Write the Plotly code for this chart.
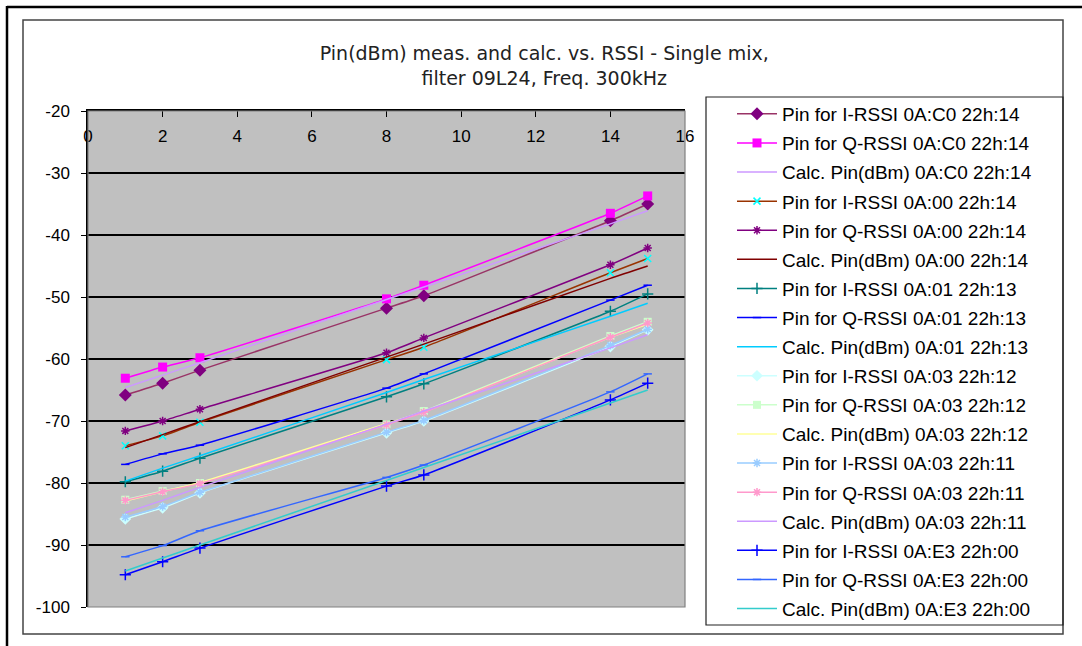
import plotly.graph_objects as go

x_vals = [1, 2, 3, 8, 9, 14, 15]

names = [
    "Pin for I-RSSI 0A:C0 22h:14",
    "Pin for Q-RSSI 0A:C0 22h:14",
    "Calc. Pin(dBm) 0A:C0 22h:14",
    "Pin for I-RSSI 0A:00 22h:14",
    "Pin for Q-RSSI 0A:00 22h:14",
    "Calc. Pin(dBm) 0A:00 22h:14",
    "Pin for I-RSSI 0A:01 22h:13",
    "Pin for Q-RSSI 0A:01 22h:13",
    "Calc. Pin(dBm) 0A:01 22h:13",
    "Pin for I-RSSI 0A:03 22h:12",
    "Pin for Q-RSSI 0A:03 22h:12",
    "Calc. Pin(dBm) 0A:03 22h:12",
    "Pin for I-RSSI 0A:03 22h:11",
    "Pin for Q-RSSI 0A:03 22h:11",
    "Calc. Pin(dBm) 0A:03 22h:11",
    "Pin for I-RSSI 0A:E3 22h:00",
    "Pin for Q-RSSI 0A:E3 22h:00",
    "Calc. Pin(dBm) 0A:E3 22h:00",
]

i_c0 = [-65.8, -63.9, -61.8, -51.8, -49.8, -37.7, -35.0]
q_c0 = [-63.1, -61.3, -59.8, -50.3, -48.1, -36.5, -33.7]
calc_c0 = [-64.6, -62.6, -60.6, -50.4, -48.4, -38.2, -36.1]
i_00 = [-74.0, -72.4, -70.2, -60.1, -58.1, -46.1, -43.8]
q_00 = [-71.6, -70.0, -68.1, -59.0, -56.6, -44.8, -42.1]
calc_00 = [-74.3, -72.2, -70.1, -59.7, -57.6, -47.0, -45.0]
i_01 = [-79.8, -78.1, -76.0, -66.1, -64.0, -52.3, -49.5]
q_01 = [-77.0, -75.3, -73.9, -64.7, -62.4, -50.5, -48.1]
calc_01 = [-79.7, -77.6, -75.6, -65.4, -63.3, -53.1, -51.0]
i_03_12 = [-85.8, -84.0, -81.6, -71.9, -70.0, -58.0, -55.3]
q_03_12 = [-82.7, -81.3, -80.0, -70.5, -68.4, -56.3, -54.0]
calc_03_12 = [-82.9, -81.4, -79.9, -70.4, -68.5, -56.5, -54.4]
i_03_11 = [-85.5, -83.8, -81.5, -71.8, -69.9, -57.8, -55.2]
q_03_11 = [-82.8, -81.4, -80.1, -70.6, -68.6, -56.5, -54.2]
calc_03_11 = [-84.8, -82.8, -80.7, -70.5, -68.4, -58.2, -56.1]
i_e3 = [-94.8, -92.7, -90.5, -80.5, -78.7, -66.6, -63.9]
q_e3 = [-91.9, -90.1, -87.7, -79.1, -77.1, -65.3, -62.4]
calc_e3 = [-94.2, -92.1, -90.0, -79.6, -77.5, -67.1, -65.0]

y_ticks = [-100, -90, -80, -70, -60, -50, -40, -30, -20]
y_tick_text = ["-100", "-90", "-80", "-70", "-60", "-50", "-40", "-30", "-20"]

series = [i_c0, q_c0, calc_c0, i_00, q_00, calc_00, i_01, q_01, calc_01,
          i_03_12, q_03_12, calc_03_12, i_03_11, q_03_11, calc_03_11,
          i_e3, q_e3, calc_e3]

# (line colour, marker symbol, marker colour, marker size)
styles = [
    ("#993366", "diamond", "#800080", 10),
    ("#FF00FF", "square", "#FF00FF", 9),
    ("#CC99FF", None, None, 0),
    ("#993300", "x-thin-open", "#00FFFF", 7),
    ("#800080", "asterisk-open", "#800080", 7),
    ("#800000", None, None, 0),
    ("#008080", "cross-thin-open", "#008080", 8),
    ("#0000FF", "line-ew-open", "#0000FF", 6),
    ("#00CCFF", None, None, 0),
    ("#CCFFFF", "diamond", "#CCFFFF", 9),
    ("#CCFFCC", "square", "#CCFFCC", 8),
    ("#FFFF99", None, None, 0),
    ("#99CCFF", "asterisk-open", "#99CCFF", 7),
    ("#FF99CC", "asterisk-open", "#FF99CC", 7),
    ("#CC99FF", None, None, 0),
    ("#0000FF", "cross-thin-open", "#0000FF", 8),
    ("#3366FF", "line-ew-open", "#3366FF", 6),
    ("#33CCCC", None, None, 0),
]

fig = go.Figure()
for k, (nm, ys, st) in enumerate(zip(names, series, styles)):
    lc, sym, mc, ms = st
    if sym is None:
        mode = "lines"
        marker = None
    else:
        mode = "lines+markers"
        if sym.endswith("-open"):
            marker = dict(symbol=sym, size=ms, color=mc, line=dict(color=mc, width=1.5))
        else:
            marker = dict(symbol=sym, size=ms, color=mc, line=dict(width=0))
    fig.add_trace(go.Scatter(
        x=x_vals, y=ys, name=nm, mode=mode, marker=marker,
        line=dict(color=lc, width=1.5, shape="spline", smoothing=0.5),
        legendgroup="g%02d" % k,
    ))

W, H = 1082, 646
PL, PR, PT, PB = 88, 685, 111, 607


def px(xp):
    return (xp - PL) / (PR - PL)


def py(yp):
    return (PB - yp) / (PB - PT)


shapes = [
    # page frame
    dict(type="line", xref="paper", yref="paper", x0=px(7), x1=px(1090), y0=py(7), y1=py(7),
         line=dict(color="black", width=2.5)),
    dict(type="line", xref="paper", yref="paper", x0=px(7), x1=px(7), y0=py(6), y1=py(650),
         line=dict(color="black", width=2.5)),
    # chart frame
    dict(type="rect", xref="paper", yref="paper", x0=px(23), x1=px(1063), y0=py(20), y1=py(634),
         line=dict(color="#444444", width=1.5)),
    # legend box
    dict(type="rect", xref="paper", yref="paper", x0=px(706), x1=px(1063), y0=py(97), y1=py(625),
         line=dict(color="#222222", width=1.2)),
    # plot area border
    dict(type="rect", xref="paper", yref="paper", x0=0, x1=1, y0=0, y1=1,
         line=dict(color="#808080", width=1.2)),
]

fig.update_layout(
    width=W, height=H,
    margin=dict(l=PL, r=W - PR, t=PT, b=H - PB),
    paper_bgcolor="white",
    plot_bgcolor="#C0C0C0",
    font=dict(family="Liberation Sans, Arial, sans-serif", size=17, color="black"),
    title=dict(
        text="Pin(dBm) meas. and calc. vs. RSSI - Single mix,<br>filter 09L24, Freq. 300kHz",
        x=0.503, xref="container", xanchor="center",
        y=1 - 60 / H, yref="container", yanchor="top",
        font=dict(family="DejaVu Sans, sans-serif", size=19, color="#222222"),
    ),
    xaxis=dict(
        side="top", range=[0, 16], dtick=2, tick0=0,
        showgrid=False, zeroline=False,
        showline=True, linecolor="black", linewidth=1.5,
        ticks="inside", ticklen=6, tickcolor="black", tickwidth=1.2,
        ticklabelposition="inside", ticklabeloverflow="allow",
        ticklabelstandoff=14,
        tickfont=dict(size=17, color="black"),
    ),
    yaxis=dict(
        range=[-100, -20], tickmode="array", tickvals=y_ticks, ticktext=y_tick_text,
        showgrid=True, gridcolor="black", gridwidth=1.5,
        zeroline=False,
        showline=True, linecolor="black", linewidth=1.5,
        ticks="outside", ticklen=5, tickcolor="black", tickwidth=1.2,
        ticklabelstandoff=8,
        tickfont=dict(size=17, color="black"),
    ),
    legend=dict(
        x=px(732), xanchor="left", xref="paper",
        y=py(95), yanchor="top", yref="paper",
        bgcolor="rgba(0,0,0,0)", borderwidth=0,
        tracegroupgap=1.4, traceorder="grouped", itemwidth=40,
        maxheight=620,
        font=dict(size=19, color="black"),
    ),
    shapes=shapes,
    showlegend=True,
)

fig.write_html("out.html")
